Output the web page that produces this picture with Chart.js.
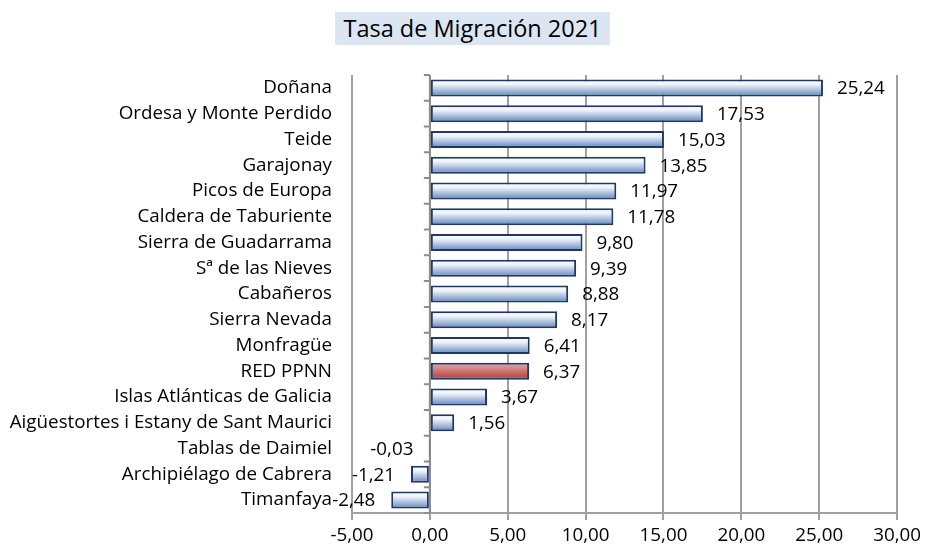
<!DOCTYPE html>
<html>
<head>
<meta charset="utf-8">
<script src="https://cdn.jsdelivr.net/npm/chart.js@4"></script>
<style>
  body { margin: 0; background: #fff; }
  #wrap { position: relative; width: 925px; height: 547px; }
  #grafica { position: absolute; left: 0; top: 0; }
  #titulo {
    position: absolute; left: 335px; top: 12px; width: 275px; height: 33px;
    background: #dce6f2; font-family: "Open Sans", sans-serif; font-size: 23.5px;
    line-height: 33px; text-align: center; color: #000; z-index: 2;
  }
</style>
</head>
<body>
<div id="wrap">
  <canvas id="grafica" width="925" height="547"></canvas>
  <div id="titulo">Tasa de Migración 2021</div>
</div>
<script>
// parques y tasas
const parques = ["Doñana", "Ordesa y Monte Perdido", "Teide", "Garajonay", "Picos de Europa",
  "Caldera de Taburiente", "Sierra de Guadarrama", "Sª de las Nieves", "Cabañeros", "Sierra Nevada",
  "Monfragüe", "RED PPNN", "Islas Atlánticas de Galicia", "Aigüestortes i Estany de Sant Maurici",
  "Tablas de Daimiel", "Archipiélago de Cabrera", "Timanfaya"];
const tasas = [25.24, 17.53, 15.03, 13.85, 11.97, 11.78, 9.80, 9.39, 8.88, 8.17, 6.41, 6.37, 3.67, 1.56, -0.03, -1.21, -2.48];
const ejeMin = -5;
const ejeMax = 30;
const paso = 5;

const fuente = "'Open Sans', sans-serif";
const tam = 18.8;
const coma = (v) => v.toFixed(2).replace(".", ",");
const grosor = 0.66;

// degradado de cada barra (rojo para el total de la red)
function relleno(context) {
  const chart = context.chart;
  const y = chart.scales.y;
  const esRed = parques[context.dataIndex] === "RED PPNN";
  if (!y || context.dataIndex === undefined) return esRed ? "#c0504d" : "#8eaadb";
  const c = y.getPixelForValue(context.dataIndex);
  const h = (y.height / parques.length) * grosor;
  if (!isFinite(c) || !isFinite(h) || h <= 0) return esRed ? "#c0504d" : "#8eaadb";
  const g = chart.ctx.createLinearGradient(0, c - h / 2, 0, c + h / 2);
  if (esRed) {
    g.addColorStop(0, "#eaa9a7");
    g.addColorStop(1, "#ab3c39");
  } else {
    g.addColorStop(0, "#ffffff");
    g.addColorStop(0.3, "#eef3f9");
    g.addColorStop(1, "#5f84bd");
  }
  return g;
}

// eje vertical en el cero con sus marcas
const ejeCero = {
  id: "ejeCero",
  beforeDatasetsDraw(chart) {
    const ctx = chart.ctx;
    const x0 = chart.scales.x.getPixelForValue(0);
    const area = chart.chartArea;
    const banda = (area.bottom - area.top) / parques.length;
    ctx.save();
    ctx.strokeStyle = "#8c8c8c";
    ctx.lineWidth = 2;
    ctx.beginPath();
    ctx.moveTo(x0, area.top);
    ctx.lineTo(x0, area.bottom);
    for (let i = 0; i <= parques.length; i++) {
      const yy = area.top + i * banda;
      ctx.moveTo(x0 - 6, yy);
      ctx.lineTo(x0, yy);
    }
    ctx.stroke();
    ctx.restore();
  }
};

// etiquetas de valor al final de cada barra
const etiquetas = {
  id: "etiquetas",
  afterDatasetsDraw(chart) {
    const ctx = chart.ctx;
    const meta = chart.getDatasetMeta(0);
    ctx.save();
    ctx.font = tam + "px " + fuente;
    ctx.fillStyle = "#000";
    ctx.textBaseline = "middle";
    meta.data.forEach((bar, i) => {
      const v = tasas[i];
      if (v >= 0) {
        ctx.textAlign = "left";
        ctx.fillText(coma(v), bar.x + 14, bar.y + 1);
      } else {
        ctx.textAlign = "right";
        ctx.fillText(coma(v), bar.x - 16, bar.y + 1);
      }
    });
    ctx.restore();
  }
};

new Chart(document.getElementById("grafica").getContext("2d"), {
  type: "bar",
  data: {
    labels: parques,
    datasets: [{
      data: tasas,
      backgroundColor: relleno,
      borderColor: "#1f3864",
      borderWidth: 2,
      borderSkipped: false,
      barPercentage: grosor,
      categoryPercentage: 1
    }]
  },
  options: {
    indexAxis: "y",
    responsive: false,
    animation: false,
    layout: { padding: { top: 75, right: 27, left: 0, bottom: 0 } },
    plugins: { legend: { display: false }, tooltip: { enabled: false } },
    scales: {
      x: {
        min: ejeMin,
        max: ejeMax,
        afterFit(scale) { scale.height = 34; },
        grid: { color: "#a0a0a0", lineWidth: 2, tickLength: 7, tickColor: "#a0a0a0" },
        border: { color: "#a0a0a0", width: 2 },
        ticks: {
          stepSize: paso,
          padding: 4,
          color: "#000",
          maxRotation: 0,
          autoSkip: false,
          font: { family: fuente, size: tam },
          callback: (v) => coma(v)
        }
      },
      y: {
        afterFit(scale) { scale.width = 352; },
        grid: { display: false, drawTicks: false, tickLength: 0 },
        border: { display: false },
        ticks: {
          padding: 20,
          color: "#000",
          autoSkip: false,
          font: { family: fuente, size: tam }
        }
      }
    }
  },
  plugins: [ejeCero, etiquetas]
});
</script>
</body>
</html>
